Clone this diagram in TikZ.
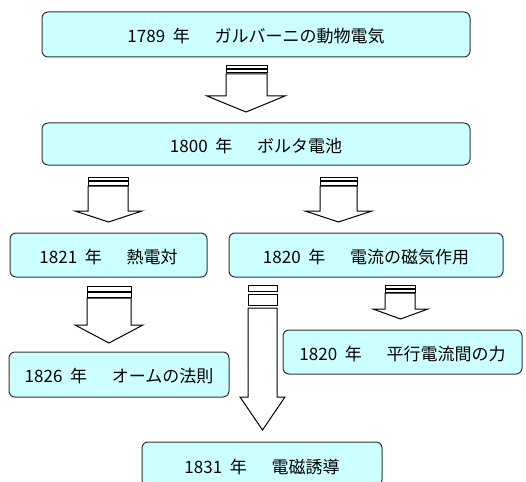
\documentclass[tikz,border=0pt]{standalone}
\usepackage{fontspec}
\setmainfont{Noto Sans CJK JP}
\definecolor{boxfill}{HTML}{CCFFFF}
\definecolor{boxline}{HTML}{333333}
\newcommand\yrtxt[2]{\raisebox{-2pt}[\height][\depth]{#1\hspace{0.45em}年\hspace{1.45em}#2}}
\newcommand\stripes[6]{%
  \draw[arrowline] (#1,#3) rectangle (#2,#4);
  \draw[arrowline] (#1,#5) rectangle (#2,#6);}
\newcommand\shaft[7]{%
  \draw[arrowline] (#1,#5) -- (#1,#6) -- (#3,#6) -- ({(#3+#4)/2},#7) -- (#4,#6) -- (#2,#6) -- (#2,#5) -- cycle;}
\begin{document}
\begin{tikzpicture}[x=1pt,y=-1pt,
  evt/.style={draw=boxline, fill=boxfill, line width=1pt, rounded corners=6pt,
    inner sep=0pt, font=\fontsize{17}{20}\selectfont},
  arrowline/.style={draw=black, fill=white, line width=1pt, line join=miter}]
\useasboundingbox (0,0) rectangle (526,481);
\clip (0,0) rectangle (526,481);
% events
\node[evt, minimum width=428pt, minimum height=45pt] (b1) at (256,34.5) {\yrtxt{1789}{ガルバーニの動物電気}};
\node[evt, minimum width=428pt, minimum height=42pt] (b2) at (256,144) {\yrtxt{1800}{ボルタ電池}};
\node[evt, minimum width=197pt, minimum height=44pt] (b3) at (108.5,255) {\yrtxt{1821}{熱電対}};
\node[evt, minimum width=274pt, minimum height=44pt] (b4) at (366,255) {\yrtxt{1820}{電流の磁気作用}};
\node[evt, minimum width=220pt, minimum height=45pt] (b5) at (119,374.5) {\yrtxt{1826}{オームの法則}};
\node[evt, minimum width=239pt, minimum height=44pt] (b6) at (402.5,352) {\yrtxt{1820}{平行電流間の力}};
\node[evt, minimum width=240pt, minimum height=44pt] (b7) at (262,464) {};
\node[font=\fontsize{17}{20}\selectfont, inner sep=0pt] (t7) at (262,465) {\yrtxt{1831}{電磁誘導}};
% striped block arrows
\stripes{226}{267}{66}{69}{70}{73}
\shaft{226}{267}{207}{285}{74}{96}{112}
\stripes{88}{128}{177}{180.5}{181.5}{185}
\shaft{88}{128}{75}{142}{186}{211}{222}
\stripes{320}{357}{177}{180.5}{181.5}{185}
\shaft{320}{357}{305}{372}{186}{211}{222}
\stripes{87}{131}{286}{291}{292}{297}
\shaft{87}{131}{75}{143}{298}{325}{343}
\stripes{248}{277}{285}{291}{294}{305}
\shaft{248}{277}{240}{285}{308}{397}{430}
\stripes{385}{415}{285}{288}{289}{292}
\shaft{385}{415}{373}{428}{293}{309}{319}
\end{tikzpicture}
\end{document}
